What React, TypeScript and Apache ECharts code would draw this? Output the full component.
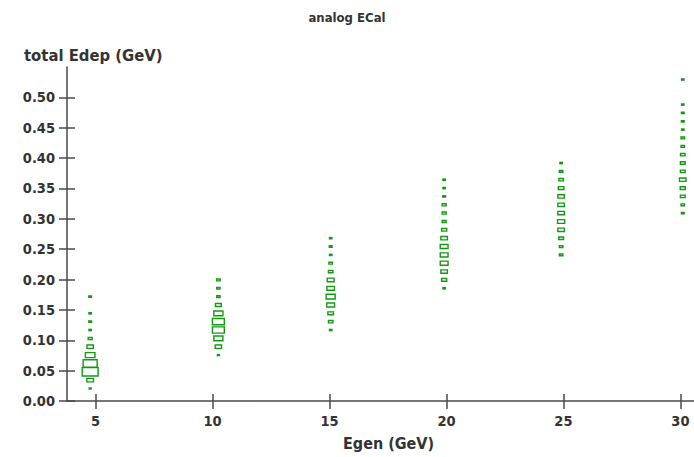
import React, { useEffect, useRef } from "react";
import * as echarts from "echarts";

// Egen column positions (GeV)
const egen = [4.77, 10.25, 15.05, 19.9, 24.9, 30.1];

// Edep bin centres (GeV) and relative box sizes for each Egen column
const edep5 = [0.0206, 0.0344, 0.0481, 0.0619, 0.0756, 0.0894, 0.1031, 0.1169, 0.1306, 0.1444, 0.1719];
const size5 = [0.12, 0.42, 1.0, 0.88, 0.6, 0.4, 0.25, 0.15, 0.17, 0.15, 0.17];

const edep10 = [0.0756, 0.0894, 0.1031, 0.1169, 0.1306, 0.1444, 0.1581, 0.1719, 0.1856, 0.1994];
const size10 = [0.12, 0.4, 0.57, 0.75, 0.75, 0.57, 0.37, 0.2, 0.2, 0.22];

const edep15 = [0.1169, 0.1306, 0.1444, 0.1581, 0.1719, 0.1856, 0.1994, 0.2131, 0.2269, 0.2406, 0.2544, 0.2681];
const size15 = [0.15, 0.28, 0.35, 0.49, 0.57, 0.47, 0.43, 0.28, 0.22, 0.15, 0.17, 0.15];

const edep20 = [0.1856, 0.1994, 0.2131, 0.2269, 0.2406, 0.2544, 0.2681, 0.2819, 0.2956, 0.3094, 0.3231, 0.3369, 0.3506, 0.3644];
const size20 = [0.15, 0.32, 0.41, 0.49, 0.49, 0.49, 0.41, 0.32, 0.25, 0.25, 0.25, 0.17, 0.15, 0.15];

const edep25 = [0.2406, 0.2544, 0.2681, 0.2819, 0.2956, 0.3094, 0.3231, 0.3369, 0.3506, 0.3644, 0.3781, 0.3919];
const size25 = [0.22, 0.22, 0.3, 0.41, 0.45, 0.41, 0.41, 0.41, 0.35, 0.28, 0.22, 0.15];

const edep30 = [0.3094, 0.3231, 0.3369, 0.3506, 0.3644, 0.3781, 0.3919, 0.4056, 0.4194, 0.4331, 0.4469, 0.4606, 0.4744, 0.4881, 0.5294];
const size30 = [0.17, 0.22, 0.3, 0.32, 0.41, 0.3, 0.3, 0.28, 0.22, 0.22, 0.15, 0.17, 0.17, 0.15, 0.15];

const xTicks = [5, 10, 15, 20, 25, 30];
const yTicks = [0, 0.05, 0.1, 0.15, 0.2, 0.25, 0.3, 0.35, 0.4, 0.45, 0.5];

const X_BIN = 0.68;
const Y_BIN = 0.01375;

const GREEN = "#129a12";
const AXIS = "#4a4a4a";
const TEXT = "#333333";
const FONT = "DejaVu Sans Condensed";

export default function App() {
  const ref = useRef<HTMLDivElement>(null);
  useEffect(() => {
    if (!ref.current) return;
    const chart = echarts.init(ref.current, undefined, { renderer: "svg" });
    const cols = [
      [edep5, size5],
      [edep10, size10],
      [edep15, size15],
      [edep20, size20],
      [edep25, size25],
      [edep30, size30],
    ];
    const data: number[][] = [];
    cols.forEach(([ed, sz], i) => {
      ed.forEach((e, j) => data.push([egen[i], e, sz[j]]));
    });
    const xCommon = {
      type: "value",
      min: 3.78,
      max: 30.58,
      splitLine: { show: false },
    };
    const yCommon = {
      type: "value",
      min: 0,
      max: 0.55,
      splitLine: { show: false },
    };
    chart.setOption({
      animation: false,
      title: [
        {
          text: "analog ECal",
          left: "center",
          top: 6,
          textStyle: { fontFamily: FONT, fontWeight: "bold", fontSize: 13, color: TEXT },
        },
        {
          text: "total Edep (GeV)",
          left: 19,
          top: 42,
          textStyle: { fontFamily: FONT, fontWeight: "bold", fontSize: 16.5, color: TEXT },
        },
      ],
      grid: { left: 67, right: 0, top: 67, bottom: 56, containLabel: false },
      xAxis: [
        {
          ...xCommon,
          position: "bottom",
          name: "Egen (GeV)",
          nameLocation: "middle",
          nameGap: 34,
          nameTextStyle: {
            fontFamily: FONT,
            fontWeight: "bold",
            fontSize: 16,
            color: TEXT,
            padding: [0, 0, 0, 16],
          },
          axisLine: { show: true, onZero: false, lineStyle: { color: AXIS, width: 1.5 } },
          axisTick: { show: true, inside: false, length: 8, customValues: xTicks, lineStyle: { color: AXIS, width: 1.5 } },
          axisLabel: {
            customValues: xTicks,
            margin: 12,
            fontFamily: FONT,
            fontWeight: "bold",
            fontSize: 14.5,
            color: TEXT,
          },
        },
        {
          ...xCommon,
          position: "bottom",
          axisLine: { show: false, onZero: false },
          axisTick: { show: true, inside: true, length: 7, customValues: xTicks, lineStyle: { color: AXIS, width: 1.5 } },
          axisLabel: { show: false },
        },
      ],
      yAxis: [
        {
          ...yCommon,
          position: "left",
          axisLine: { show: true, onZero: false, lineStyle: { color: AXIS, width: 1.5 } },
          axisTick: { show: true, inside: false, length: 8, customValues: yTicks, lineStyle: { color: AXIS, width: 1.5 } },
          axisLabel: {
            customValues: yTicks,
            margin: 12,
            formatter: (v: number) => v.toFixed(2),
            fontFamily: FONT,
            fontWeight: "bold",
            fontSize: 14.5,
            color: TEXT,
          },
        },
        {
          ...yCommon,
          position: "left",
          axisLine: { show: false, onZero: false },
          axisTick: { show: true, inside: true, length: 8, customValues: yTicks, lineStyle: { color: AXIS, width: 1.5 } },
          axisLabel: { show: false },
        },
      ],
      series: [
        {
          type: "custom",
          xAxisIndex: 0,
          yAxisIndex: 0,
          data,
          renderItem: (params: any, api: any) => {
            const x = api.value(0);
            const y = api.value(1);
            const s = api.value(2);
            const c = api.coord([x, y]);
            const sz = api.size([X_BIN, Y_BIN]);
            const w = sz[0] * s;
            const h = sz[1] * s;
            return {
              type: "rect",
              shape: { x: c[0] - w / 2, y: c[1] - h / 2, width: w, height: h },
              style: { fill: "none", stroke: GREEN, lineWidth: 1.4 },
            };
          },
        },
      ],
    });
    return () => chart.dispose();
  }, []);
  return <div ref={ref} style={{ width: 694, height: 457, position: "absolute", left: 0, top: 0 }} />;
}
